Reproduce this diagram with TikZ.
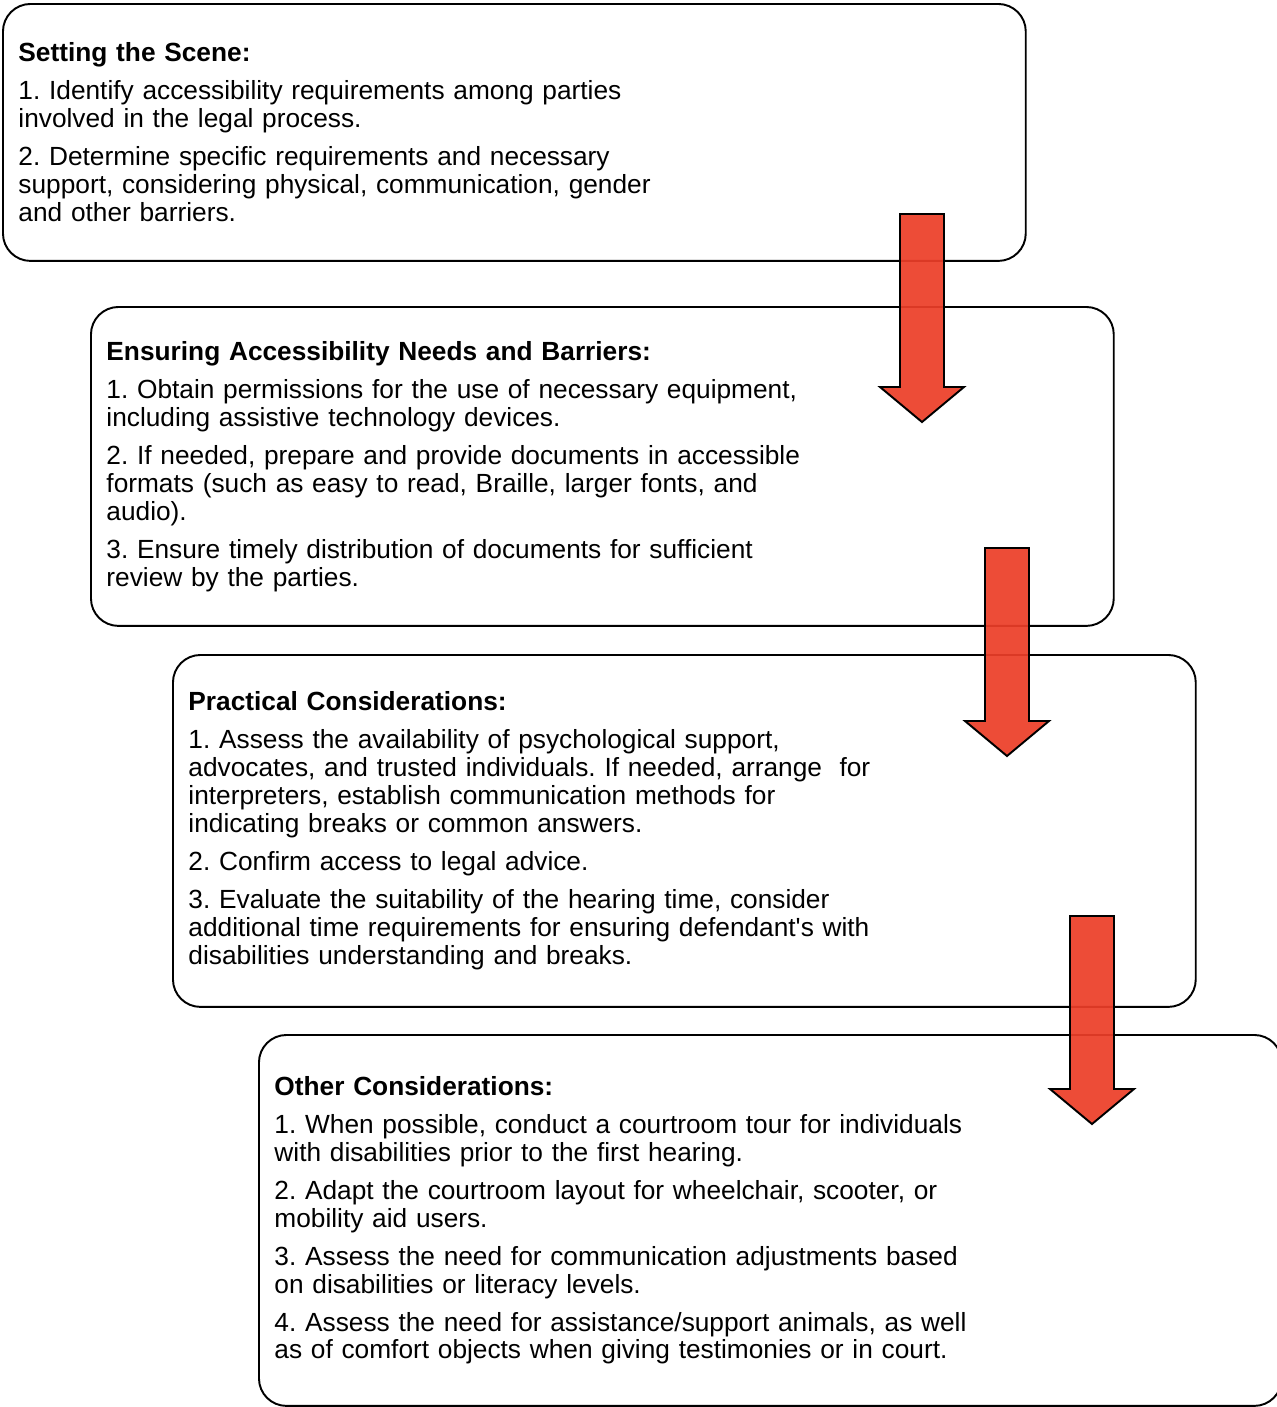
\documentclass[tikz,border=0pt]{standalone}
\usepackage{fontspec}
\setmainfont{Liberation Sans}
\usepackage{tikz}
\usetikzlibrary{positioning}
\definecolor{flowred}{RGB}{236,62,40}
\tikzstyle{downarrow} = [draw=black, line width=1.1pt, fill=flowred, fill opacity=0.93, line join=miter]
\frenchspacing

\begin{document}
\begin{tikzpicture}[x=0.02cm, y=-0.02cm,
    stage/.style={rectangle, rounded corners=0.55cm, draw=black, line width=1.1pt, minimum width=20.46cm, inner xsep=0.31cm, text width=19.84cm, align=left, anchor=north west, font=\fontsize{14.95}{15.9}\selectfont}]
\useasboundingbox (0,0) rectangle (1277,1407);

% Stage boxes
\node[stage, minimum height=5.14cm] (scene) at (2,3) {\textbf{Setting the Scene:}\\[0.2cm]
1. Identify accessibility requirements among parties\\
involved in the legal process.\\[0.2cm]
2. Determine specific requirements and necessary\\
support, considering physical, communication, gender\\
and other barriers.};

\node[stage, minimum height=6.38cm] (needs) at (90,306) {\textbf{Ensuring Accessibility Needs and Barriers:}\\[0.2cm]
1. Obtain permissions for the use of necessary equipment,\\
including assistive technology devices.\\[0.2cm]
2. If needed, prepare and provide documents in accessible\\
formats (such as easy to read, Braille, larger fonts, and\\
audio).\\[0.2cm]
3. Ensure timely distribution of documents for sufficient\\
review by the parties.};

\node[stage, minimum height=7.04cm] (practical) at (172,654) {\textbf{Practical Considerations:}\\[0.2cm]
1. Assess the availability of psychological support,\\
advocates, and trusted individuals. If needed, arrange\ \ for\\
interpreters, establish communication methods for\\
indicating breaks or common answers.\\[0.2cm]
2. Confirm access to legal advice.\\[0.2cm]
3. Evaluate the suitability of the hearing time, consider\\
additional time requirements for ensuring defendant\textquotesingle s with\\
disabilities understanding and breaks.};

\node[stage, minimum height=7.42cm] (other) at (258,1034) {\textbf{Other Considerations:}\\[0.2cm]
1. When possible, conduct a courtroom tour for individuals\\
with disabilities prior to the first hearing.\\[0.2cm]
2. Adapt the courtroom layout for wheelchair, scooter, or\\
mobility aid users.\\[0.2cm]
3. Assess the need for communication adjustments based\\
on disabilities or literacy levels.\\[0.2cm]
4. Assess the need for assistance/support animals, as well\\
as of comfort objects when giving testimonies or in court.};

% Arrows between stages
\foreach \ax/\ay in {900/214, 985/548, 1070/916}
  \draw[downarrow] (\ax,\ay) -- ++(44,0) -- ++(0,173) -- ++(20,0) -- ++(-42,35) -- ++(-42,-35) -- ++(20,0) -- cycle;
\end{tikzpicture}
\end{document}
